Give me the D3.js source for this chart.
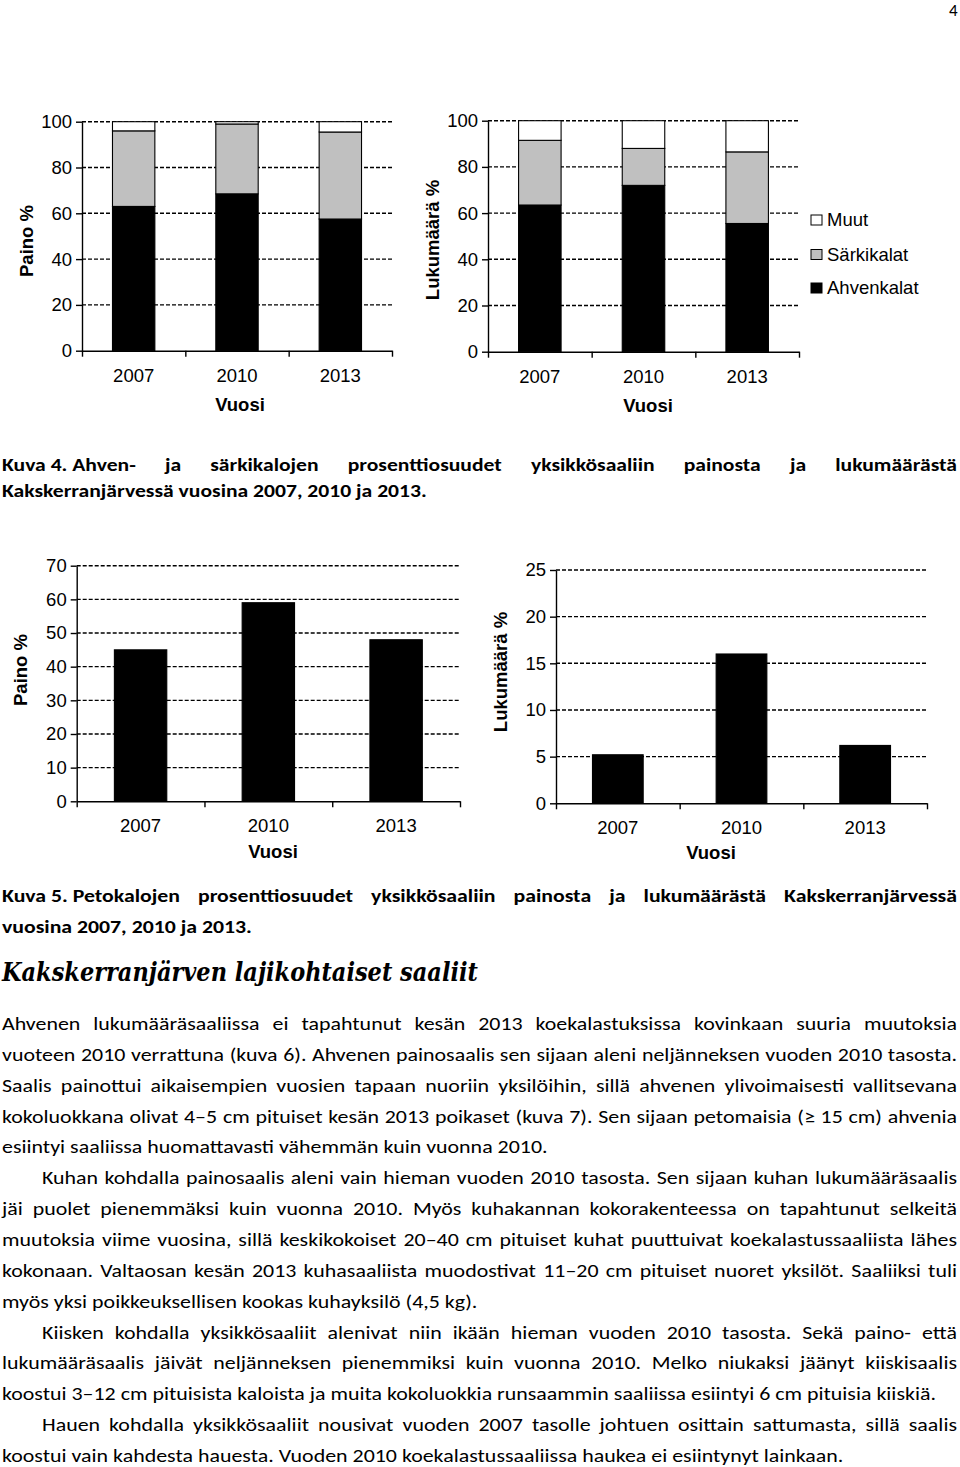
<!DOCTYPE html>
<html>
<head>
<meta charset="utf-8">
<script src="https://cdn.jsdelivr.net/npm/d3@7"></script>
<style>
  body { margin: 0; background: #fff; }
  svg { display: block; }
</style>
</head>
<body>
<svg id="page" width="960" height="1467"></svg>
<script>
// ---- data ----
const years = ['2007', '2010', '2013'];
const groups = ['Ahvenkalat', 'Särkikalat', 'Muut'];

// Kuva 4, paino %
const painoAhven = [63, 68.5, 57.5];
const painoSarki = [33, 30.5, 38];
const painoMuut = [4, 1, 4.5];
// Kuva 4, lukumäärä %
const lukuAhven = [63.5, 72, 55.5];
const lukuSarki = [28, 16, 31];
const lukuMuut = [8.5, 12, 13.5];
// Kuva 5, petokalat
const petoPaino = [45, 59, 48];
const petoLuku = [5.2, 16, 6.2];

const ticks100 = [0, 20, 40, 60, 80, 100];
const ticks70 = [0, 10, 20, 30, 40, 50, 60, 70];
const ticks25 = [0, 5, 10, 15, 20, 25];

const fills = { 'Ahvenkalat': '#000', 'Särkikalat': '#c0c0c0', 'Muut': '#fff' };

const svg = d3.select('#page');
const chartFont = '"Liberation Sans", Arial, sans-serif';
const fs = 18.5;

/**
 * draw one bar chart (stacked when several series given)
 */
function drawChart(o) {
  const g = svg.append('g');
  const y = d3.scaleLinear().domain([0, o.max]).range([o.y0, o.yTop]);
  const x = d3.scaleBand().domain(years).range([o.x0, o.x1])
    .paddingInner(0.59).paddingOuter(0.295);

  // dashed gridlines
  g.selectAll('line.grid')
    .data(o.ticks.filter(t => t > 0))
    .enter()
    .append('line')
    .attr('x1', o.x0).attr('x2', o.x1)
    .attr('y1', d => y(d)).attr('y2', d => y(d))
    .attr('stroke', '#000')
    .attr('stroke-width', 1.4)
    .attr('stroke-dasharray', '4,2');

  // bars
  const rows = years.map((yr, i) => {
    const r = { year: yr };
    o.keys.forEach((k, j) => { r[k] = o.series[j][i]; });
    return r;
  });
  const stacked = d3.stack().keys(o.keys)(rows);
  g.selectAll('g.layer')
    .data(stacked)
    .enter()
    .append('g')
    .attr('fill', d => fills[d.key])
    .selectAll('rect')
    .data(d => d)
    .enter()
    .append('rect')
    .attr('x', d => x(d.data.year))
    .attr('width', x.bandwidth())
    .attr('y', d => y(d[1]))
    .attr('height', d => y(d[0]) - y(d[1]))
    .attr('stroke', '#000')
    .attr('stroke-width', 1.1);

  // y axis
  const yAxis = d3.axisLeft(y).tickValues(o.ticks).tickSize(6).tickSizeOuter(0).tickPadding(4);
  const ya = g.append('g').attr('transform', 'translate(' + o.x0 + ',0)').call(yAxis);

  // x axis: tick marks on category boundaries
  const xb = d3.scaleLinear().domain([0, years.length]).range([o.x0, o.x1]);
  const xa = g.append('g').attr('transform', 'translate(0,' + o.y0 + ')')
    .call(d3.axisBottom(xb).tickValues(d3.range(years.length + 1)).tickFormat('').tickSize(6).tickSizeOuter(0));
  // category labels
  const xl = g.append('g').attr('transform', 'translate(0,' + o.y0 + ')')
    .call(d3.axisBottom(x).tickSize(0).tickPadding(18));
  xl.select('.domain').remove();

  [ya, xa, xl].forEach(a => {
    a.attr('font-family', chartFont).attr('font-size', fs);
    a.selectAll('path, line').attr('stroke', '#000').attr('stroke-width', 1.4);
    a.selectAll('text').attr('fill', '#000');
  });

  // axis titles
  g.append('text')
    .attr('transform', 'translate(' + o.yTitle[0] + ',' + o.yTitle[1] + ') rotate(-90)')
    .attr('text-anchor', 'middle')
    .attr('dy', '0.35em')
    .attr('font-family', chartFont).attr('font-size', fs).attr('font-weight', 'bold')
    .text(o.yLabel);
  g.append('text')
    .attr('x', o.xTitle[0]).attr('y', o.xTitle[1])
    .attr('text-anchor', 'middle')
    .attr('dy', '0.35em')
    .attr('font-family', chartFont).attr('font-size', fs).attr('font-weight', 'bold')
    .text('Vuosi');
}

drawChart({
  x0: 82, x1: 392, yTop: 121.7, y0: 350.7, max: 100, ticks: ticks100,
  keys: groups, series: [painoAhven, painoSarki, painoMuut],
  yLabel: 'Paino %', yTitle: [27, 241], xTitle: [240, 405]
});
drawChart({
  x0: 488, x1: 799, yTop: 120.7, y0: 351.7, max: 100, ticks: ticks100,
  keys: groups, series: [lukuAhven, lukuSarki, lukuMuut],
  yLabel: 'Lukumäärä %', yTitle: [433, 240], xTitle: [648, 406]
});
drawChart({
  x0: 76.7, x1: 460, yTop: 565.7, y0: 801.3, max: 70, ticks: ticks70,
  keys: ['Ahvenkalat'], series: [petoPaino],
  yLabel: 'Paino %', yTitle: [21, 670], xTitle: [273, 852]
});
drawChart({
  x0: 556, x1: 927, yTop: 570, y0: 803.3, max: 25, ticks: ticks25,
  keys: ['Ahvenkalat'], series: [petoLuku],
  yLabel: 'Lukumäärä %', yTitle: [501, 672], xTitle: [711, 853]
});

// legend
const legendY = [220, 254.5, 288];
const legendItems = ['Muut', 'Särkikalat', 'Ahvenkalat'];
const lg = svg.append('g').selectAll('g')
  .data(legendItems)
  .enter()
  .append('g')
  .attr('transform', (d, i) => 'translate(811,' + legendY[i] + ')');
lg.append('rect')
  .attr('x', 0).attr('y', -5).attr('width', 11).attr('height', 10)
  .attr('fill', d => fills[d]).attr('stroke', '#000').attr('stroke-width', 1);
lg.append('text')
  .attr('x', 16).attr('dy', '0.35em')
  .attr('font-family', chartFont).attr('font-size', fs)
  .text(d => d);

// ---- document text ----
const bodyFont = 'Carlito, Lato, "Open Sans", sans-serif';
const headFont = '"DejaVu Serif", serif';

function measure(str, o) {
  const t = svg.append('text')
    .attr('font-family', o.font).attr('font-size', o.size)
    .attr('font-weight', o.weight || 'normal').attr('font-style', o.style || 'normal')
    .text(str);
  const w = t.node().getComputedTextLength();
  t.remove();
  return w;
}

// one printed line; justified lines spread the gaps between words
function textLine(str, x, y, o, justifyTo) {
  const t = svg.append('text')
    .attr('font-family', o.font).attr('font-size', o.size)
    .attr('font-weight', o.weight || 'normal').attr('font-style', o.style || 'normal')
    .attr('fill', '#000')
    .attr('transform', 'translate(' + x + ',' + y + ') scale(' + o.scale + ',1)');
  if (justifyTo) {
    const words = str.split(' ');
    const spans = words.map(w => t.append('tspan').text(w));
    const widths = spans.map(sp => sp.node().getComputedTextLength());
    const gap = ((justifyTo - x) / o.scale - d3.sum(widths)) / (words.length - 1);
    let cx = 0;
    spans.forEach((sp, i) => { sp.attr('x', cx).attr('y', 0); cx += widths[i] + gap; });
  } else {
    t.text(str);
  }
  return t;
}

const rightEdge = 957;

// page number
svg.append('text').attr('x', 949).attr('y', 16)
  .attr('font-family', bodyFont).attr('font-size', 17).text('4');

// Kuva 4 caption (non-breaking spaces keep "Kuva 4. Ahven-" tight)
const cap4 = { font: bodyFont, size: 18.5, weight: 'bold' };
const cap4L2 = 'Kakskerranjärvessä vuosina 2007, 2010 ja 2013.';
cap4.scale = 425 / measure(cap4L2, cap4);
textLine('Kuva\u00a04.\u00a0Ahven- ja särkikalojen prosenttiosuudet yksikkösaaliin painosta ja lukumäärästä', 2, 471, cap4, rightEdge);
textLine(cap4L2, 2, 497, cap4);

// Kuva 5 caption
const cap5 = { font: bodyFont, size: 18.5, weight: 'bold' };
const cap5L2 = 'vuosina 2007, 2010 ja 2013.';
cap5.scale = 250 / measure(cap5L2, cap5);
textLine('Kuva\u00a05.\u00a0Petokalojen prosenttiosuudet yksikkösaaliin painosta ja lukumäärästä Kakskerranjärvessä', 2, 902, cap5, rightEdge);
textLine(cap5L2, 2, 933, cap5);

// heading
const head = { font: headFont, size: 26, weight: 'bold', style: 'italic' };
const headText = 'Kakskerranjärven lajikohtaiset saaliit';
head.scale = 476 / measure(headText, head);
textLine(headText, 2, 981, head);

// body paragraphs, one entry per printed line: [text, indent, justified]
const bodyLines = [
  ['Ahvenen lukumääräsaaliissa ei tapahtunut kesän 2013 koekalastuksissa kovinkaan suuria muutoksia', 0, true],
  ['vuoteen 2010 verrattuna (kuva 6). Ahvenen painosaalis sen sijaan aleni neljänneksen vuoden 2010 tasosta.', 0, true],
  ['Saalis painottui aikaisempien vuosien tapaan nuoriin yksilöihin, sillä ahvenen ylivoimaisesti vallitsevana', 0, true],
  ['kokoluokkana olivat 4–5 cm pituiset kesän 2013 poikaset (kuva 7). Sen sijaan petomaisia (≥ 15 cm) ahvenia', 0, true],
  ['esiintyi saaliissa huomattavasti vähemmän kuin vuonna 2010.', 0, false],
  ['Kuhan kohdalla painosaalis aleni vain hieman vuoden 2010 tasosta. Sen sijaan kuhan lukumääräsaalis', 40, true],
  ['jäi puolet pienemmäksi kuin vuonna 2010. Myös kuhakannan kokorakenteessa on tapahtunut selkeitä', 0, true],
  ['muutoksia viime vuosina, sillä keskikokoiset 20–40 cm pituiset kuhat puuttuivat koekalastussaaliista lähes', 0, true],
  ['kokonaan. Valtaosan kesän 2013 kuhasaaliista muodostivat 11–20 cm pituiset nuoret yksilöt. Saaliiksi tuli', 0, true],
  ['myös yksi poikkeuksellisen kookas kuhayksilö (4,5 kg).', 0, false],
  ['Kiisken kohdalla yksikkösaaliit alenivat niin ikään hieman vuoden 2010 tasosta. Sekä paino- että', 40, true],
  ['lukumääräsaalis jäivät neljänneksen pienemmiksi kuin vuonna 2010. Melko niukaksi jäänyt kiiskisaalis', 0, true],
  ['koostui 3–12 cm pituisista kaloista ja muita kokoluokkia runsaammin saaliissa esiintyi 6 cm pituisia kiiskiä.', 0, false],
  ['Hauen kohdalla yksikkösaaliit nousivat vuoden 2007 tasolle johtuen osittain sattumasta, sillä saalis', 40, true],
  ['koostui vain kahdesta hauesta. Vuoden 2010 koekalastussaaliissa haukea ei esiintynyt lainkaan.', 0, false]
];
const body = { font: bodyFont, size: 19 };
body.scale = 546 / measure(bodyLines[4][0], body);
bodyLines.forEach((l, i) => {
  textLine(l[0], 2 + l[1], 1030 + i * 30.86, body, l[2] ? rightEdge : null);
});
</script>
</body>
</html>
